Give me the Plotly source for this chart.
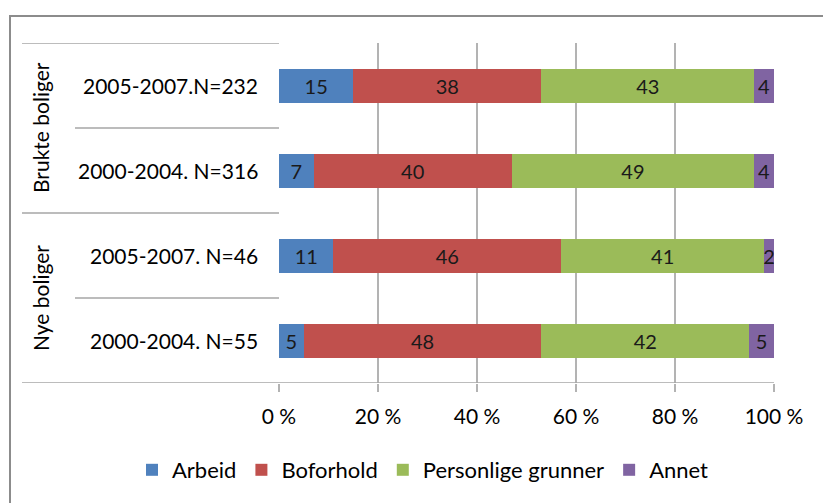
import plotly.graph_objects as go

# Data (bottom to top order on the axis)
groups = ["Nye boliger", "Nye boliger", "Brukte boliger", "Brukte boliger"]
periods = ["2000-2004. N=55", "2005-2007. N=46", "2000-2004. N=316", "2005-2007.N=232"]
series_names = ["Arbeid", "Boforhold", "Personlige grunner", "Annet"]
arbeid = [5, 11, 7, 15]
boforhold = [48, 46, 40, 38]
personlige = [42, 41, 49, 43]
annet = [5, 2, 4, 4]
colors = ["#4F81BD", "#C0504D", "#9BBB59", "#8064A2"]
tick_vals = [0, 20, 40, 60, 80, 100]
tick_text = ["0 %", "20 %", "40 %", "60 %", "80 %", "100 %"]

FONT = "Lato, Calibri, sans-serif"
FS = 21

# layout geometry in px
W, H = 823, 503
L, R, T, B = 279, 49, 43, 120
PW = W - L - R
PH = H - T - B

def px_x(px):
    return (px - L) / PW

def px_y(py):
    return (H - B - py) / PH

ypos = list(range(len(periods)))

fig = go.Figure()
for name, vals, col in zip(series_names, [arbeid, boforhold, personlige, annet], colors):
    fig.add_trace(go.Bar(
        y=ypos, x=vals, name=name, orientation="h",
        marker=dict(color=col, line=dict(width=0)),
        width=0.4,
        text=[str(v) for v in vals],
        texttemplate="%{text}", textposition="inside", insidetextanchor="middle",
        textangle=0,
        textfont=dict(family=FONT, size=20, color="#1a1a1a"),
    ))

shapes = []
line_col = "#a6a6a6"
# table lines
for i in range(len(periods) + 1):
    yv = i - 0.5
    full = (i % 2 == 0)
    x0 = px_x(22) if full else px_x(75)
    x1 = 1 if i == 0 else 0
    shapes.append(dict(type="line", xref="paper", yref="y", x0=x0, x1=x1, y0=yv, y1=yv,
                       line=dict(color=line_col, width=1.5), layer="above"))
# outer frame
shapes.append(dict(type="rect", xref="paper", yref="paper",
                   x0=px_x(10), x1=px_x(900), y0=px_y(16), y1=px_y(700),
                   line=dict(color="#8c8c8c", width=2), fillcolor="rgba(0,0,0,0)", layer="below"))

annotations = []
for i, p in enumerate(periods):
    annotations.append(dict(xref="paper", yref="y", x=px_x(260), y=i, text=p, showarrow=False,
                            xanchor="right", yanchor="middle",
                            font=dict(family=FONT, size=FS, color="#000")))
# group labels
group_names = []
for g in groups:
    if g not in group_names:
        group_names.append(g)
for g in group_names:
    idx = [i for i, gg in enumerate(groups) if gg == g]
    yc = sum(idx) / len(idx)
    annotations.append(dict(xref="paper", yref="y", x=px_x(40), y=yc, text=g, showarrow=False,
                            textangle=-90, xanchor="center", yanchor="middle",
                            font=dict(family=FONT, size=FS, color="#000")))

fig.update_layout(
    barmode="stack",
    width=W, height=H,
    margin=dict(l=L, r=R, t=T, b=B, pad=0),
    paper_bgcolor="white", plot_bgcolor="white",
    font=dict(family=FONT, size=FS, color="#000"),
    uniformtext=dict(minsize=20, mode="show"),
    showlegend=True,
    legend=dict(orientation="h", x=px_x(132), xanchor="left", y=px_y(470), yanchor="middle",
                font=dict(family=FONT, size=22), traceorder="normal",
                bgcolor="rgba(0,0,0,0)"),
    xaxis=dict(range=[0, 100], tickvals=tick_vals, ticktext=tick_text,
               showgrid=True, gridcolor="#b3b3b3", gridwidth=1.5,
               ticks="outside", ticklen=8, tickcolor="#b3b3b3", tickwidth=1.5,
               ticklabelstandoff=7,
               zeroline=False, showline=False, fixedrange=True,
               tickfont=dict(family=FONT, size=FS, color="#000")),
    yaxis=dict(range=[-0.5, len(periods) - 0.5], showticklabels=False, showgrid=False,
               zeroline=False, showline=False, ticks=""),
    shapes=shapes,
    annotations=annotations,
)

fig.write_html("out.html", config={"displayModeBar": False},
               post_script="document.body.style.margin='0';")
